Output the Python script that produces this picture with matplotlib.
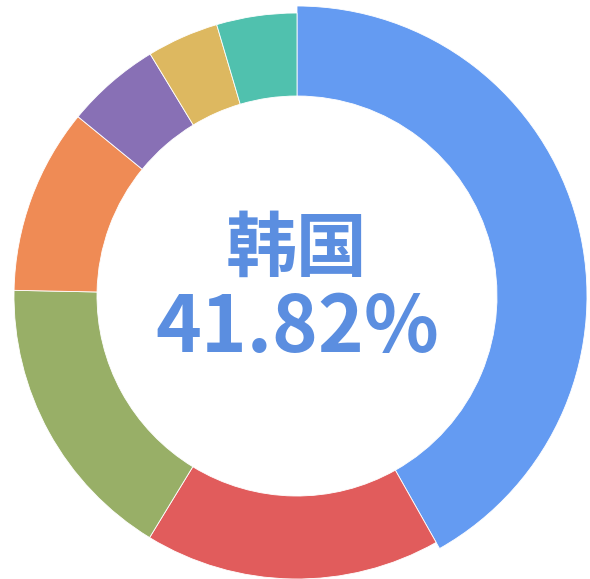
import matplotlib
matplotlib.use("Agg")
import matplotlib.pyplot as plt

# slice data, clockwise from 12 o'clock
names = ["韩国", "B", "C", "D", "E", "F", "G"]
shares = [41.82, 16.9, 16.6, 10.6, 5.4, 4.1, 4.58]
colors = ["#649BF2", "#E15C5C", "#98AF67", "#EF8B55", "#8870B5", "#DDB860", "#50C1AE"]
highlight = 0

W, H = 590, 579
cx, cy = 297, H - 296
R_out, R_in = 283, 200
grow = 7

fig = plt.figure(figsize=(W / 100, H / 100), dpi=100)
ax = fig.add_axes([0, 0, 1, 1])

wedges, _ = ax.pie(shares, colors=colors, startangle=90, counterclock=False,
                   center=(cx, cy), radius=R_out, frame=True,
                   wedgeprops=dict(width=R_out - R_in, edgecolor="white", linewidth=0.6))
# hovered slice sticks out a bit
wedges[highlight].set_radius(R_out + grow)
wedges[highlight].set_width(R_out + grow - R_in)
ax.set_xlim(0, W)
ax.set_ylim(0, H)
ax.set_aspect("equal")
ax.axis("off")

font = ["Noto Sans CJK SC", "DejaVu Sans"]
ax.text(cx, H - 250, names[highlight], ha="center", va="center", fontsize=51,
        fontweight="heavy", color="#5B8EE0", family=font)
ax.text(cx, H - 329, f"{shares[highlight]:.2f}%", ha="center", va="center", fontsize=56,
        fontweight="heavy", color="#5B8EE0", family=font)

fig.savefig("out.png", dpi=100)
